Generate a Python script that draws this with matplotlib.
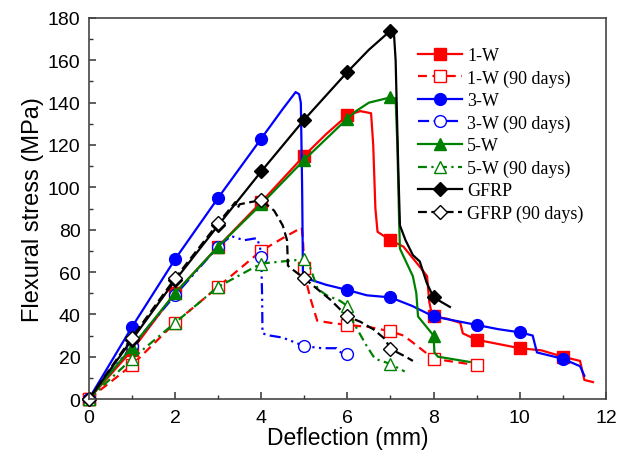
import numpy as np
import matplotlib

matplotlib.use('Agg')
import matplotlib.pyplot as plt
from matplotlib.ticker import MultipleLocator

# Deflection (mm) / flexural stress (MPa) curves
w1_x = [0, 1, 2, 3, 4, 5, 5.5, 6, 6.3, 6.55, 6.6, 6.65, 6.7, 7.0, 7.3, 7.5, 7.7, 7.85, 7.9, 7.95, 8.0,
        8.3, 8.62, 8.68, 9.0, 9.5, 10.0, 10.5, 11.0, 11.4, 11.5, 11.7]
w1_y = [0, 23, 50, 72, 93, 115, 125, 134, 136, 135, 120, 90, 79, 75, 72, 67, 62, 58, 46, 41, 39,
        38, 36, 31, 28, 26, 24, 23, 20, 18, 9, 8]

w1_90_x = [0, 1, 2, 3, 4, 4.5, 4.94, 4.97, 5.0, 5.05, 5.15, 5.3, 5.6, 6.0, 6.5, 7.0, 7.3, 7.5, 7.75, 8.0, 9.0]
w1_90_y = [0, 16, 36, 53, 70, 76, 81, 75, 62, 55, 47, 37, 36, 35, 34, 32, 30, 27, 23, 19, 16]

w3_x = [0, 1, 2, 3, 4, 4.5, 4.8, 4.88, 4.92, 4.95, 4.97, 5.2, 5.5, 6.0, 6.45, 7.0, 7.5, 7.8, 8.0, 8.5, 9.0,
        9.5, 10.0, 10.3, 10.4, 11.0, 11.4, 11.5]
w3_y = [0, 34, 66, 95, 123, 137, 145, 144, 140, 100, 57, 56, 54, 51.5, 49, 48, 44, 41, 39, 37, 35,
        33, 31.5, 30, 22, 19, 15.5, 11]

w3_90_x = [0, 1, 2, 3, 3.3, 3.6, 3.9, 3.97, 4.0, 4.02, 4.03, 4.2, 4.5, 4.75, 5.0, 5.4, 5.75, 5.85, 6.0]
w3_90_y = [0, 25, 49, 72, 77, 75, 76, 72, 67, 50, 31, 30, 29, 27, 25, 24, 24, 22, 21.5]

w5_x = [0, 1, 2, 3, 4, 5, 6, 6.2, 6.5, 7.0, 7.12, 7.16, 7.2, 7.22, 7.52, 7.6, 7.64, 8.0, 8.02, 8.1, 8.84]
w5_y = [0, 24.6, 50, 72, 92, 113, 132.5, 136, 140, 142.5, 142, 120, 85, 71, 58, 50, 39, 30, 22, 20, 17.5]

w5_90_x = [0, 1, 2, 3, 4, 4.5, 5.0, 5.13, 5.31, 5.52, 5.82, 6.0, 6.13, 6.45, 6.64, 7.0, 7.33]
w5_90_y = [0, 19, 36, 53, 64, 65, 66, 62.5, 52, 49, 46.5, 44, 36.5, 25, 19, 16.6, 13]

gfrp_x = [0, 1, 2, 3, 4, 5, 6, 6.5, 7.0, 7.08, 7.12, 7.18, 7.22, 7.35, 7.52, 7.68, 7.84, 8.0, 8.38]
gfrp_y = [0, 28, 56, 82, 107.5, 132, 154.5, 165, 174, 173, 160, 110, 82, 75, 68, 65, 55, 48, 43.5]

gfrp_90_x = [0, 1, 2, 3, 3.4, 3.45, 3.5, 4.0, 4.3, 4.5, 4.6, 4.62, 4.74, 5.0, 5.3, 5.6, 6.0, 6.3, 6.6, 6.87,
             7.0, 7.37, 7.52]
gfrp_90_y = [0, 29, 57, 83, 93, 90, 92, 94, 89, 82, 75, 63, 61, 57, 52, 47, 39, 36.5, 33, 28.4,
             23.7, 19.8, 18]

series = [
    ('1-W', w1_x, w1_y, 'red', '-', 's', True),
    ('1-W (90 days)', w1_90_x, w1_90_y, 'red', (0, (4, 2.5)), 's', False),
    ('3-W', w3_x, w3_y, 'blue', '-', 'o', True),
    ('3-W (90 days)', w3_90_x, w3_90_y, 'blue', (0, (5, 2, 1, 2, 1, 2)), 'o', False),
    ('5-W', w5_x, w5_y, 'green', '-', '^', True),
    ('5-W (90 days)', w5_90_x, w5_90_y, 'green', (0, (4, 2, 1, 2)), '^', False),
    ('GFRP', gfrp_x, gfrp_y, 'black', '-', 'D', True),
    ('GFRP (90 days)', gfrp_90_x, gfrp_90_y, 'black', (0, (4, 2)), 'D', False),
]

fig = plt.figure(figsize=(6.17, 4.52), dpi=100)
ax = fig.add_axes([0.144, 0.115, 0.838, 0.843])

for label, xs, ys, color, ls, mk, filled in series:
    xs = np.asarray(xs, dtype=float)
    ys = np.asarray(ys, dtype=float)
    # markers only at whole-millimetre deflections
    idx = np.where(np.isclose(xs, np.round(xs)))[0].tolist()
    ms = 7.5 if mk == 'D' else 8.5
    ax.plot(xs, ys, color=color, linestyle=ls, linewidth=1.6,
            marker=mk, markevery=idx, markersize=ms,
            markerfacecolor=color if filled else 'white',
            markeredgecolor=color,
            markeredgewidth=1.0, label=label, clip_on=False)

ax.set_xlim(0, 12)
ax.set_ylim(0, 180)
ax.xaxis.set_major_locator(MultipleLocator(2))
ax.xaxis.set_minor_locator(MultipleLocator(1))
ax.yaxis.set_major_locator(MultipleLocator(20))
ax.yaxis.set_minor_locator(MultipleLocator(10))
ax.tick_params(which='both', direction='in', top=False, right=False, colors='#333333')
ax.tick_params(which='major', length=5, width=1.1, labelsize=14, labelcolor='black')
ax.tick_params(axis='x', which='major', pad=7)
ax.tick_params(axis='y', which='major', pad=6)
ax.tick_params(which='minor', length=3, width=1.0)
for lbl in ax.get_xticklabels() + ax.get_yticklabels():
    lbl.set_family(['Liberation Sans', 'DejaVu Sans'])
for sp in ax.spines.values():
    sp.set_linewidth(1.2)
    sp.set_color('#444444')

ax.set_xlabel('Deflection (mm)', fontsize=16.5, family=['Liberation Sans', 'DejaVu Sans'], labelpad=0)
ax.set_ylabel('Flexural stress (MPa)', fontsize=17, family=['Liberation Sans', 'DejaVu Sans'], labelpad=3)

ax.legend(loc='upper left', bbox_to_anchor=(0.637, 0.924), frameon=False,
          prop={'family': ['Liberation Serif', 'DejaVu Serif'], 'size': 13},
          handlelength=2.4, handletextpad=0.3, labelspacing=0.3,
          borderpad=0, borderaxespad=0)

fig.savefig('out.png', dpi=100)
